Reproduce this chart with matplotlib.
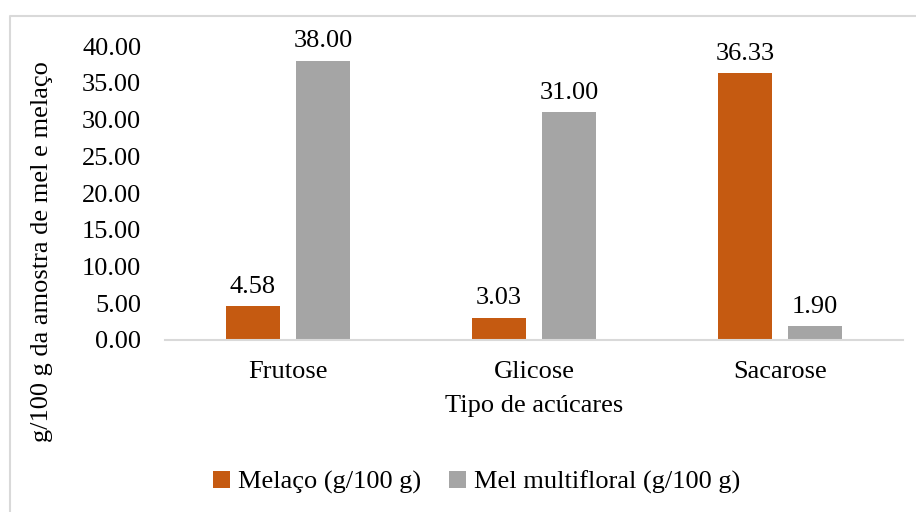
import matplotlib.pyplot as plt
import numpy as np
from matplotlib.lines import Line2D

plt.rcParams['font.family'] = ['Liberation Serif', 'DejaVu Serif']

acucares = ['Frutose', 'Glicose', 'Sacarose']
melaco = [4.58, 3.03, 36.33]
mel_multifloral = [38.00, 31.00, 1.90]
series_labels = ['Melaço (g/100 g)', 'Mel multifloral (g/100 g)']
cores = ['#C55A11', '#A5A5A5']

fs = 19

fig = plt.figure(figsize=(9.16, 5.12), dpi=100)
ax = fig.add_axes([0.180, 0.336, 0.806, 0.574])

x = np.arange(len(acucares))
width = 0.222
offset = 0.142

for vals, dx, cor, lab in zip([melaco, mel_multifloral], [-offset, offset], cores, series_labels):
    bars = ax.bar(x + dx, vals, width, color=cor, label=lab)
    for b, v in zip(bars, vals):
        ax.annotate(f'{v:.2f}', (b.get_x() + b.get_width() / 2, v),
                    xytext=(0, 6), textcoords='offset points',
                    ha='center', va='bottom', fontsize=fs)

ax.set_xlim(-0.5, 2.5)
ax.set_ylim(0, 40)
ax.set_yticks(np.arange(0, 41, 5))
ax.set_yticklabels([f'{t:.2f}' for t in np.arange(0, 41, 5)])
ax.set_xticks(x)
ax.set_xticklabels(acucares)
ax.tick_params(axis='y', length=0, pad=17, labelsize=fs)
ax.tick_params(axis='x', length=0, pad=15, labelsize=fs)

for s in ['top', 'right', 'left']:
    ax.spines[s].set_visible(False)
ax.spines['bottom'].set_color('#D9D9D9')
ax.spines['bottom'].set_linewidth(1.5)

ax.set_xlabel('Tipo de acúcares', fontsize=fs, labelpad=9)
fig.text(0.046, 0.508, 'g/100 g da amostra de mel e melaço', rotation=90,
         ha='center', va='center', fontsize=fs)

fig.legend(loc='center', bbox_to_anchor=(0.520, 0.058), ncol=2, frameon=False,
           fontsize=fs, handlelength=0.65, handleheight=0.65, handletextpad=0.3,
           columnspacing=1.05)

# outer chart border (left and top edges)
fig.add_artist(Line2D([0.011, 0.011, 1.0], [0.0, 0.968, 0.968],
                      transform=fig.transFigure, color='#D9D9D9', lw=1.5))

fig.savefig('out.png', dpi=100)
